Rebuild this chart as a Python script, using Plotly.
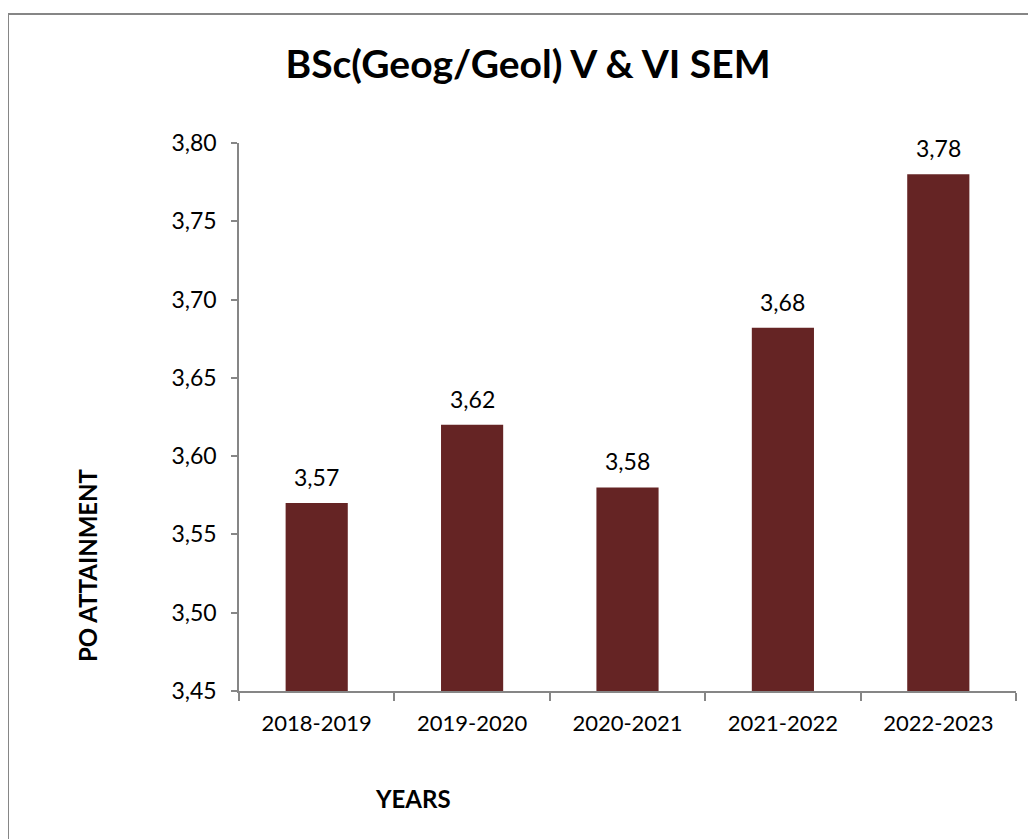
import plotly.graph_objects as go

years = ["2018-2019", "2019-2020", "2020-2021", "2021-2022", "2022-2023"]
po_attainment = [3.57, 3.62, 3.58, 3.682, 3.78]
y_ticks = [3.45, 3.50, 3.55, 3.60, 3.65, 3.70, 3.75, 3.80]

FONT = "Lato"
AX = "#868686"
OFF = 8  # page body margin

fig = go.Figure()
fig.add_trace(go.Bar(x=years, y=po_attainment, marker_color="#652424",
                     marker_line_width=0, width=0.4))

for x, v in zip(years, po_attainment):
    fig.add_annotation(x=x, y=v, text=f"{v:.2f}".replace(".", ","), showarrow=False,
                       yanchor="bottom", yshift=10, font=dict(family=FONT, size=23, color="black"))

W, H = 1028, 831
L, R, T, B = 231, 20, 135, 148
pw, ph = W - L - R, H - T - B

def px(x):
    return (x - OFF - L) / pw

def py(y):
    return 1 - (y - OFF - T) / ph

fig.add_annotation(text="<b>YEARS</b>", x=px(413), y=py(798), xref="paper", yref="paper",
                   xanchor="center", yanchor="middle",
                   showarrow=False, font=dict(family=FONT, size=24, color="black"))
fig.add_annotation(text="<b>PO ATTAINMENT</b>", x=px(87), y=py(565), xref="paper", yref="paper",
                   xanchor="center", yanchor="middle",
                   showarrow=False, textangle=-90, font=dict(family=FONT, size=24, color="black"))

fig.add_shape(type="path", xref="paper", yref="paper",
              path=f"M {px(8)},{py(900)} L {px(8)},{py(14)} L {px(1100)},{py(14)}",
              line=dict(color=AX, width=2))

fig.update_layout(
    width=W, height=H,
    margin=dict(l=L, r=R, t=T, b=B),
    paper_bgcolor="white", plot_bgcolor="white",
    separators=",.",
    showlegend=False,
    title=dict(text="<b>BSc(Geog/Geol) V & VI SEM</b>", x=px(528), xref="paper", xanchor="center",
               y=1 - (64 - OFF) / H, yanchor="middle",
               font=dict(family=FONT, size=39, color="black")),
    font=dict(family=FONT, size=23, color="black"),
)
fig.update_yaxes(range=[3.45, 3.80], tickvals=y_ticks, tickformat=".2f",
                 showgrid=False, zeroline=False, showline=True, linecolor=AX, linewidth=1.5,
                 ticks="outside", ticklen=6, tickcolor=AX, tickwidth=1.5,
                 ticklabelstandoff=10, tickfont=dict(family=FONT, size=23, color="black"))
fig.update_xaxes(showgrid=False, showline=True, linecolor=AX, linewidth=1.5,
                 ticks="outside", tickson="boundaries", ticklen=8, tickcolor=AX, tickwidth=1.5,
                 ticklabelstandoff=12, tickfont=dict(family=FONT, size=22, color="black"))

fig.write_html("out.html")
